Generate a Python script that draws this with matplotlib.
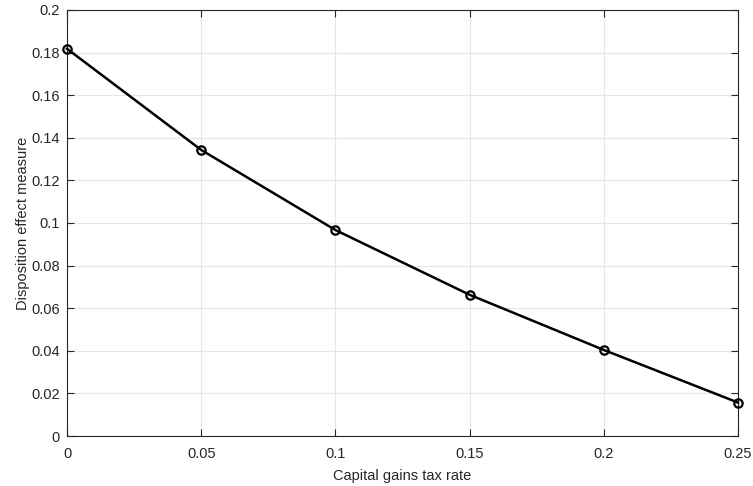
import numpy as np
import matplotlib.pyplot as plt

plt.rcParams['font.family'] = ['Liberation Sans', 'DejaVu Sans']

# datos
tax_rate = [0, 0.05, 0.1, 0.15, 0.2, 0.25]
disposition = [0.1818, 0.1343, 0.0967, 0.0663, 0.0404, 0.0157]
xticks = [0, 0.05, 0.1, 0.15, 0.2, 0.25]
xtick_labels = ['0', '0.05', '0.1', '0.15', '0.2', '0.25']
yticks = [0, 0.02, 0.04, 0.06, 0.08, 0.1, 0.12, 0.14, 0.16, 0.18, 0.2]
ytick_labels = ['0', '0.02', '0.04', '0.06', '0.08', '0.1', '0.12', '0.14', '0.16', '0.18', '0.2']

fig = plt.figure(figsize=(7.53, 4.86), dpi=100)
ax = fig.add_axes([67 / 753, 1 - 436 / 486, (738 - 67) / 753, (436 - 10) / 486])

ax.plot(tax_rate, disposition, color='black', linewidth=1.8, marker='o',
        markersize=6, markerfacecolor='none', markeredgewidth=1.6, clip_on=False, zorder=3)

ax.set_xlim(0, 0.25)
ax.set_ylim(0, 0.2)
ax.set_xticks(xticks)
ax.set_xticklabels(xtick_labels)
ax.set_yticks(yticks)
ax.set_yticklabels(ytick_labels)
ax.grid(True, color='#e6e6e6', linewidth=0.8)
ax.set_axisbelow(True)

for s in ax.spines.values():
    s.set_color('#262626')
    s.set_linewidth(0.8)
ax.tick_params(direction='in', length=5, width=0.8, colors='#262626',
               labelsize=10.5, top=True, right=True)
ax.tick_params(axis='x', pad=8)
ax.tick_params(axis='y', pad=5)

ax.set_xlabel('Capital gains tax rate', fontsize=10.5, color='#262626', labelpad=6)
ax.set_ylabel('Disposition effect measure', fontsize=10.5, color='#262626', labelpad=1)

fig.savefig('out.png', dpi=100)
